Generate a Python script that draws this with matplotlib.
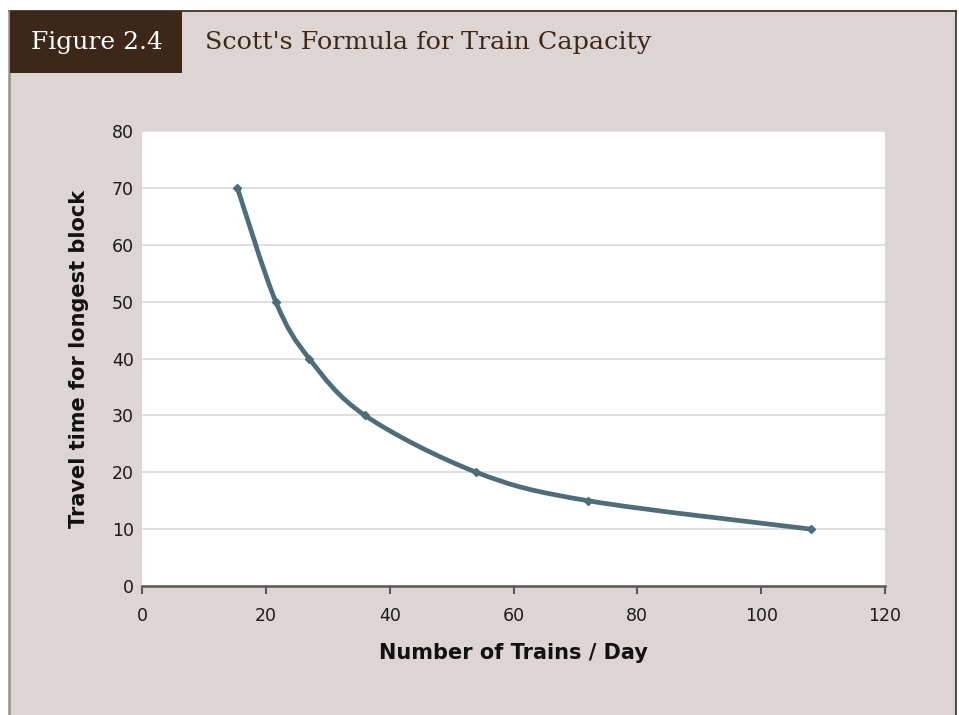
import matplotlib
matplotlib.use("Agg")
import matplotlib.pyplot as plt
from matplotlib.patches import Rectangle, PathPatch
from matplotlib.path import Path
from matplotlib.lines import Line2D

# ---- data ----
trains_per_day = [15.4, 21.6, 27, 36, 54, 72, 108]
travel_time = [70, 50, 40, 30, 20, 15, 10]
x_ticks = [0, 20, 40, 60, 80, 100, 120]
y_ticks = [0, 10, 20, 30, 40, 50, 60, 70, 80]
fig_label = "Figure 2.4"
title = "Scott's Formula for Train Capacity"
x_label = "Number of Trains / Day"
y_label = "Travel time for longest block"

W, H = 959, 715
fig = plt.figure(figsize=(W / 100, H / 100), dpi=100)
fig.patch.set_facecolor("white")

def fx(px):
    return px / W

def fy(py):
    return 1 - py / H

bg = "#ddd5d3"
# panel background
fig.patches.append(Rectangle((fx(9), 0), fx(956) - fx(9), fy(10), transform=fig.transFigure,
                             facecolor=bg, edgecolor="none", zorder=-2))
# borders
fig.lines.append(Line2D([fx(9), fx(956)], [fy(10.5), fy(10.5)], transform=fig.transFigure,
                        color="#3d2718", lw=1.2, zorder=-1))
fig.lines.append(Line2D([fx(956), fx(956)], [0, fy(10.5)], transform=fig.transFigure,
                        color="#3d2718", lw=1.2, zorder=-1))
fig.lines.append(Line2D([fx(9), fx(9)], [0, fy(10.5)], transform=fig.transFigure,
                        color="#9a8e88", lw=1.8, zorder=-1))
# title box
fig.patches.append(Rectangle((fx(10), fy(73)), fx(182) - fx(10), fy(11) - fy(73),
                             transform=fig.transFigure, facecolor="#3d2718",
                             edgecolor="none", zorder=-1))
fig.text(fx(97), fy(43), fig_label, color="white", ha="center", va="center",
         family="DejaVu Serif", fontsize=18)
fig.text(fx(205), fy(43), title, color="#3d2718", ha="left", va="center",
         family="DejaVu Serif", fontsize=18.3)

ax = fig.add_axes([fx(142), fy(586), fx(885) - fx(142), fy(131) - fy(586)])
ax.set_zorder(2)
ax.set_facecolor("white")
ax.set_xlim(0, 120)
ax.set_ylim(0, 80)
ax.set_xticks(x_ticks)
ax.set_yticks(y_ticks)
ax.grid(axis="y", color="#d9d9d9", lw=1.2)
ax.set_axisbelow(True)
for s in ["top", "right", "left"]:
    ax.spines[s].set_visible(False)
ax.spines["bottom"].set_color("#595959")
ax.spines["bottom"].set_linewidth(1.8)
ax.tick_params(axis="x", direction="out", length=6, width=1.5, color="#595959",
               labelsize=12.5, pad=9, labelcolor="#1a1a1a")
ax.tick_params(axis="y", length=0, labelsize=12.5, pad=6, labelcolor="#1a1a1a")
ax.set_xlabel(x_label, fontsize=15, fontweight="bold", color="#111111", labelpad=13)
ax.set_ylabel(y_label, fontsize=15, fontweight="bold", color="#111111", labelpad=16)

# smoothed line (Catmull-Rom as cubic Bezier segments)
pts = list(zip(trains_per_day, travel_time))
verts = [pts[0]]
codes = [Path.MOVETO]
n = len(pts)
for i in range(n - 1):
    p0 = pts[i - 1] if i > 0 else pts[i]
    p1 = pts[i]
    p2 = pts[i + 1]
    p3 = pts[i + 2] if i + 2 < n else pts[i + 1]
    c1 = (p1[0] + (p2[0] - p0[0]) / 6, p1[1] + (p2[1] - p0[1]) / 6)
    c2 = (p2[0] - (p3[0] - p1[0]) / 6, p2[1] - (p3[1] - p1[1]) / 6)
    verts += [c1, c2, p2]
    codes += [Path.CURVE4] * 3
line_color = "#4f6c79"
ax.add_patch(PathPatch(Path(verts, codes), facecolor="none", edgecolor=line_color,
                       lw=3.4, capstyle="round", joinstyle="round", zorder=3))
ax.plot(trains_per_day, travel_time, linestyle="none", marker="D", markersize=4.5,
        color=line_color, zorder=4)

fig.savefig("out.png", dpi=100)
